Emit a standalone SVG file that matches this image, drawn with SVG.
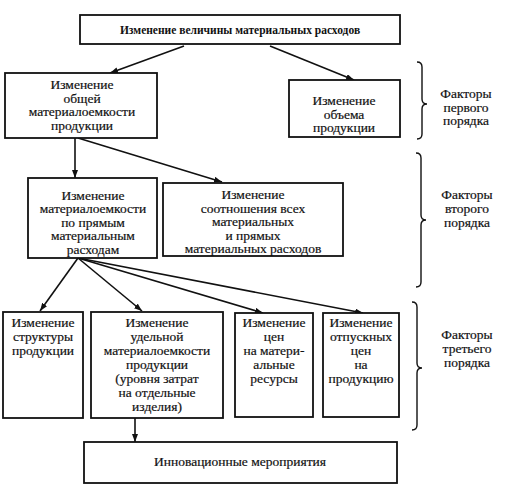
<svg xmlns="http://www.w3.org/2000/svg" width="528" height="495" viewBox="0 0 528 495">
<style>
.box{fill:#fff;stroke:#111;stroke-width:1.8}
.t{font-family:'Liberation Serif','DejaVu Serif',serif;font-size:13.5px;fill:#111;stroke:#111;stroke-width:0.2;text-anchor:middle}
.tb{font-family:'Liberation Serif','DejaVu Serif',serif;font-size:11.5px;font-weight:bold;fill:#111;text-anchor:middle}
.c{stroke:#111;stroke-width:1.6;fill:none;marker-end:url(#ah)}
.br{stroke:#111;stroke-width:1.4;fill:none}
</style>
<defs>
<marker id="ah" viewBox="0 0 8 6" refX="8" refY="3" markerWidth="8" markerHeight="6" markerUnits="userSpaceOnUse" orient="auto">
<path d="M0,0 L8,3 L0,6 z" fill="#111"/>
</marker>
</defs>
<rect width="528" height="495" fill="#fff"/>

<g id="connectors">
<line class="c" x1="184" y1="46" x2="110" y2="73"/>
<line class="c" x1="270" y1="46" x2="354" y2="80"/>
<line class="c" x1="75" y1="138" x2="75" y2="178"/>
<line class="c" x1="78" y1="138" x2="222" y2="182"/>
<line class="c" x1="78" y1="258" x2="40" y2="311"/>
<line class="c" x1="78" y1="258" x2="142" y2="311"/>
<line class="c" x1="78" y1="258" x2="263" y2="313"/>
<line class="c" x1="78" y1="258" x2="363" y2="313"/>
<line class="c" x1="135" y1="418" x2="135" y2="442"/>
</g>

<g id="n-top">
<rect class="box" x="80" y="15" width="320" height="29"/>
<text class="tb" x="240" y="34">Изменение величины материальных расходов</text>
</g>

<g id="n-general">
<rect class="box" x="5" y="73" width="152" height="65"/>
<text class="t" x="82" y="89">Изменение</text>
<text class="t" x="82" y="102.5">общей</text>
<text class="t" x="82" y="116">материалоемкости</text>
<text class="t" x="82" y="129.5">продукции</text>
</g>

<g id="n-volume">
<rect class="box" x="289" y="80" width="111" height="57"/>
<text class="t" x="344" y="105">Изменение</text>
<text class="t" x="344" y="118.5">объема</text>
<text class="t" x="344" y="132">продукции</text>
</g>

<g id="n-direct">
<rect class="box" x="28" y="178" width="129" height="80"/>
<text class="t" x="93" y="199.5">Изменение</text>
<text class="t" x="93" y="213">материалоемкости</text>
<text class="t" x="93" y="226.5">по прямым</text>
<text class="t" x="93" y="240">материальным</text>
<text class="t" x="93" y="253.5">расходам</text>
</g>

<g id="n-ratio">
<rect class="box" x="163" y="183" width="180" height="73"/>
<text class="t" x="253" y="199">Изменение</text>
<text class="t" x="253" y="212.5">соотношения всех</text>
<text class="t" x="253" y="226">материальных</text>
<text class="t" x="253" y="239.5">и прямых</text>
<text class="t" x="253" y="253">материальных расходов</text>
</g>

<g id="n-structure">
<rect class="box" x="3" y="312" width="80" height="106"/>
<text class="t" x="43" y="327">Изменение</text>
<text class="t" x="43" y="341">структуры</text>
<text class="t" x="43" y="355">продукции</text>
</g>

<g id="n-specific">
<rect class="box" x="91" y="312" width="132" height="106"/>
<text class="t" x="157" y="327">Изменение</text>
<text class="t" x="157" y="341">удельной</text>
<text class="t" x="157" y="355">материалоемкости</text>
<text class="t" x="157" y="369">продукции</text>
<text class="t" x="157" y="383">(уровня затрат</text>
<text class="t" x="157" y="397">на отдельные</text>
<text class="t" x="157" y="411">изделия)</text>
</g>

<g id="n-prices">
<rect class="box" x="235" y="313" width="78" height="104"/>
<text class="t" x="274" y="327">Изменение</text>
<text class="t" x="274" y="341">цен</text>
<text class="t" x="274" y="355">на матери-</text>
<text class="t" x="274" y="369">альные</text>
<text class="t" x="274" y="383">ресурсы</text>
</g>

<g id="n-sale">
<rect class="box" x="323" y="313" width="76" height="104"/>
<text class="t" x="361" y="327">Изменение</text>
<text class="t" x="361" y="341">отпускных</text>
<text class="t" x="361" y="355">цен</text>
<text class="t" x="361" y="369">на</text>
<text class="t" x="361" y="383">продукцию</text>
</g>

<g id="n-innov">
<rect class="box" x="84" y="442" width="313" height="41"/>
<text class="t" x="240" y="466">Инновационные мероприятия</text>
</g>

<g id="labels">
<path class="br" d="M417,62 Q422,62 422,67 L422,99 Q422,104 427,104 Q422,104 422,109 L422,134 Q422,139 417,139"/>
<text class="t" x="466" y="98">Факторы</text>
<text class="t" x="466" y="111.5">первого</text>
<text class="t" x="466" y="125">порядка</text>

<path class="br" d="M416,153 Q421,153 421,158 L421,215 Q421,220 426,220 Q421,220 421,225 L421,282 Q421,287 416,287"/>
<text class="t" x="467" y="199">Факторы</text>
<text class="t" x="467" y="213">второго</text>
<text class="t" x="467" y="227">порядка</text>

<path class="br" d="M412,302 Q417,302 417,307 L417,363 Q417,368 422,368 Q417,368 417,373 L417,425 Q417,430 412,430"/>
<text class="t" x="467" y="339">Факторы</text>
<text class="t" x="467" y="353">третьего</text>
<text class="t" x="467" y="367">порядка</text>
</g>
</svg>
